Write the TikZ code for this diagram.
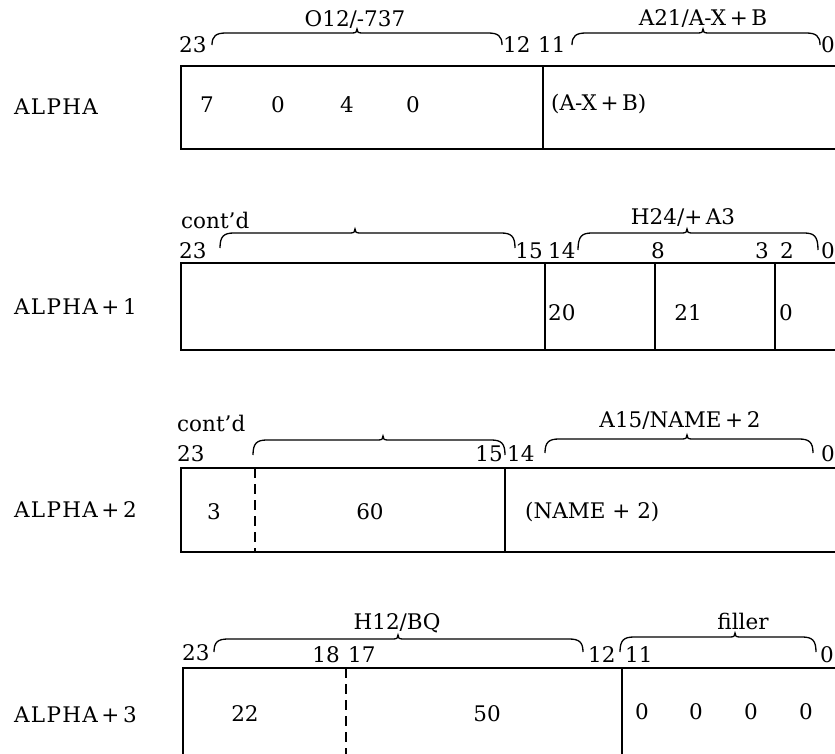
\documentclass[tikz,border=0pt]{standalone}
\usepackage{fontspec}
\setmainfont{DejaVu Serif}
\newcommand{\dgmfont}{\fontsize{21.5}{25}\selectfont}
\newcommand{\fieldbrace}[5]{%
  \draw[bracestyle] (#1,#5) .. controls (#1,{#4+3}) and ({#1+4},#4) .. ({#1+14},#4)
    -- ({#3-5},#4) .. controls ({#3-1},#4) and (#3,{#4-1}) .. (#3,{#4-4})
    .. controls (#3,{#4-1}) and ({#3+1},#4) .. ({#3+5},#4)
    -- ({#2-14},#4) .. controls ({#2-4},#4) and (#2,{#4+3}) .. (#2,#5);}
\newcommand{\alphaname}{{\addfontfeatures{LetterSpace=6}ALPHA}}
\tikzset{
  lbl/.style={inner sep=0pt, font=\dgmfont},
  boxline/.style={line width=1.6pt},
  dashline/.style={line width=1.4pt, dash pattern=on 10pt off 6pt},
  bracestyle/.style={line width=1.3pt},
}
\begin{document}
\begin{tikzpicture}[x=1pt, y=-1pt]
\useasboundingbox (0,0) rectangle (835,753);
\clip (0,0) rectangle (835,753);

% ---------------- Row 1 : ALPHA
\node[lbl, anchor=west] (r1name) at (14,107) {\alphaname};
\draw[boxline] (860,66) -- (181,66) -- (181,149) -- (860,149);
\draw[boxline] (543,66) -- (543,149);
\fieldbrace{212}{502}{357}{33}{45}
\fieldbrace{572}{820}{703}{33}{45}
\node[lbl] (r1f1) at (355,20) {O12/-737};
\node[lbl] (r1f2) at (703,19) {A21/A-X\,+\,B};
\node[lbl, anchor=west] (r1b23) at (179,45) {23};
\node[lbl, anchor=west] (r1b12) at (503,45) {12};
\node[lbl, anchor=west] (r1b11) at (538,45) {11};
\node[lbl, anchor=west] (r1b0) at (821,45) {0};
\node[lbl] (r1c1) at (207,105) {7};
\node[lbl] (r1c2) at (278,105) {0};
\node[lbl] (r1c3) at (347,105) {4};
\node[lbl] (r1c4) at (413,105) {0};
\node[lbl, anchor=west] (r1c5) at (551,104) {(A-X\,+\,B)};

% ---------------- Row 2 : ALPHA+1
\node[lbl, anchor=west] (r2name) at (14,307) {\alphaname\,+\,1};
\draw[boxline] (860,263) -- (181,263) -- (181,350) -- (860,350);
\draw[boxline] (545,263) -- (545,350);
\draw[boxline] (655,263) -- (655,350);
\draw[boxline] (775,263) -- (775,350);
\fieldbrace{220}{515}{355}{233}{248}
\fieldbrace{578}{818}{687}{233}{250}
\node[lbl, anchor=west] (r2cont) at (181,220) {cont'd};
\node[lbl] (r2f2) at (683,218) {H24/+\,A3};
\node[lbl, anchor=west] (r2b23) at (179,251) {23};
\node[lbl, anchor=east] (r2b15) at (543,251) {15};
\node[lbl, anchor=west] (r2b14) at (548,251) {14};
\node[lbl] (r2b8) at (658,251) {8};
\node[lbl] (r2b3) at (762,251) {3};
\node[lbl] (r2b2) at (787,251) {2};
\node[lbl, anchor=west] (r2b0) at (821,251) {0};
\node[lbl, anchor=west] (r2c1) at (548,313) {20};
\node[lbl] (r2c2) at (688,313) {21};
\node[lbl, anchor=west] (r2c3) at (779,313) {0};

% ---------------- Row 3 : ALPHA+2
\node[lbl, anchor=west] (r3name) at (14,510) {\alphaname\,+\,2};
\draw[boxline] (860,468) -- (181,468) -- (181,552) -- (860,552);
\draw[dashline] (255,468) -- (255,552);
\draw[boxline] (505,468) -- (505,552);
\fieldbrace{253}{505}{383}{440}{455}
\fieldbrace{545}{813}{687}{439}{453}
\node[lbl, anchor=west] (r3cont) at (177,423) {cont'd};
\node[lbl] (r3f2) at (680,421) {A15/NAME\,+\,2};
\node[lbl, anchor=west] (r3b23) at (177,454) {23};
\node[lbl, anchor=east] (r3b15) at (503,454) {15};
\node[lbl, anchor=west] (r3b14) at (507,454) {14};
\node[lbl, anchor=west] (r3b0) at (821,454) {0};
\node[lbl] (r3c1) at (214,512) {3};
\node[lbl] (r3c2) at (370,512) {60};
\node[lbl, anchor=west] (r3c3) at (525,512) {(NAME + 2)};

% ---------------- Row 4 : ALPHA+3
\node[lbl, anchor=west] (r4name) at (14,715) {\alphaname\,+\,3};
\draw[boxline] (860,668) -- (183,668) -- (183,760);
\draw[dashline] (346,668) -- (346,760);
\draw[boxline] (622,668) -- (622,760);
\fieldbrace{214}{583}{398}{639}{652}
\fieldbrace{620}{816}{735}{637}{652}
\node[lbl] (r4f1) at (397,623) {H12/BQ};
\node[lbl] (r4f2) at (743,621) {filler};
\node[lbl, anchor=west] (r4b23) at (182,653) {23};
\node[lbl, anchor=east] (r4b18) at (340,655) {18};
\node[lbl, anchor=west] (r4b17) at (348,655) {17};
\node[lbl, anchor=west] (r4b12) at (588,655) {12};
\node[lbl, anchor=west] (r4b11) at (625,655) {11};
\node[lbl, anchor=west] (r4b0) at (820,655) {0};
\node[lbl] (r4c1) at (245,714) {22};
\node[lbl] (r4c2) at (487,714) {50};
\node[lbl] (r4c3) at (642,712) {0};
\node[lbl] (r4c4) at (696,712) {0};
\node[lbl] (r4c5) at (751,712) {0};
\node[lbl] (r4c6) at (806,712) {0};
\end{tikzpicture}
\end{document}
